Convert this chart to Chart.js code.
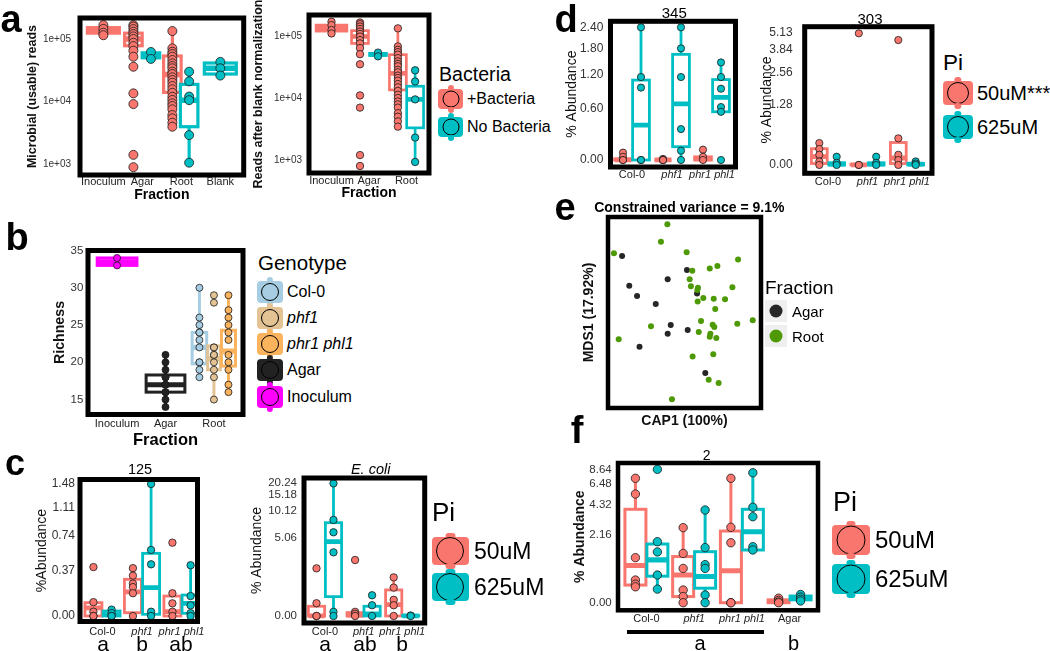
<!DOCTYPE html>
<html>
<head>
<meta charset="utf-8">
<title>Microbiome abundance panels</title>
<script src="https://cdn.jsdelivr.net/npm/chart.js@4.4.0/dist/chart.umd.min.js"></script>
<style>
  html, body { margin: 0; padding: 0; background: #fff; }
  body { position: relative; width: 1050px; height: 651px; overflow: hidden;
         font-family: "Liberation Sans", Arial, sans-serif; color: #000; }
  canvas { position: absolute; }
  .t { position: absolute; white-space: nowrap; line-height: 1; }
  .c { transform: translate(-50%, -50%); }
  .l { transform: translateY(-50%); }
  .key { position: absolute; border-radius: 4px; transform: translateY(-50%); }
  .key::before, .key::after { content: ''; position: absolute; left: 50%; width: 24%; height: 6px;
         transform: translateX(-50%); background: inherit; border-radius: 3px; }
  .key::before { top: -4px; }
  .key::after { bottom: -4px; }
  .dot { position: absolute; left: 50%; top: 50%; transform: translate(-50%, -50%);
         border-radius: 50%; border: 1.4px solid #000; box-sizing: border-box; }
  .sq { position: absolute; background: #efefef; transform: translateY(-50%); }
  .sq .dot { border: none; }
</style>
</head>
<body>
<script>
const PINK = '#F8766D', TEAL = '#00BFC4';

// ---------- a: reads per fraction (log scale) ----------
const fractionA = ['Inoculum', 'Agar', 'Root', 'Blank'];
const fractionA2 = ['Inoculum', 'Agar', 'Root'];
const readTicks = [1000, 10000, 100000];
const readTickLabels = ['1e+03', '1e+04', '1e+05'];

const usableInoculum = [167000, 145000, 126000, 115000];
const usableAgar = [167000, 158000, 144000, 131000, 120000, 110000, 100000, 87000, 77000, 65000, 52000, 36000, 13500, 9100, 1400, 890];
const usableAgarNoBact = [62000, 48000];
const usableRoot = [134000, 71000, 62600, 57500, 52100, 46100, 40800, 37000, 34000, 30000, 27500, 24400, 22100, 20000, 17700, 15700, 13800, 11900, 10600, 9350, 8470, 7500, 6080, 5380, 4580, 3950];
const usableRootNoBact = [30000, 21000, 12000, 10500, 2900, 1050];
const usableBlank = [43000, 34000, 26000];
// boxes: lower whisker, q1, median, q3, upper whisker
const usableInoculumBox = [115000, 124000, 135000, 152000, 167000];
const usableAgarBox = [52000, 78000, 100000, 124000, 167000];
const usableAgarNoBactBox = [48000, 50000, 55000, 60000, 62000];
const usableRootBox = [3950, 14000, 27000, 53500, 134000];
const usableRootNoBactBox = [1050, 3950, 10500, 18800, 30000];
const usableBlankBox = [26000, 27500, 34000, 41300, 43000];

const normInoculum = [170000, 150000, 125000, 110000];
const normAgar = [165000, 155000, 142000, 130000, 118000, 108000, 98000, 86000, 76000, 64000, 51000, 35000, 11000, 7000, 1200, 800];
const normAgarNoBact = [54000, 47000];
const normRoot = [133000, 68000, 60000, 55000, 50000, 44000, 39000, 35500, 32500, 28500, 26000, 23000, 21000, 19000, 16800, 14900, 13000, 11300, 10000, 8800, 7900, 7000, 5700, 5000, 4200, 3450];
const normRootNoBact = [28000, 18500, 9500, 2300, 930];
const normInoculumBox = [110000, 120000, 135000, 150000, 170000];
const normAgarBox = [51000, 76000, 98000, 122000, 165000];
const normAgarNoBactBox = [47000, 48500, 50500, 52500, 54000];
const normRootBox = [3450, 13500, 25000, 50000, 133000];
const normRootNoBactBox = [930, 3300, 9500, 15500, 28000];

// ---------- b: richness ----------
const fractionB = ['Inoculum', 'Agar', 'Root'];
const richTicks = [15, 20, 25, 30, 35];
const richTickLabels = ['15', '20', '25', '30', '35'];
const richInoculum = [34, 33];
const richAgar = [21, 20, 19, 18, 18, 17, 17, 16, 16, 15, 14];
const richCol0 = [30, 26, 25, 24, 24, 23, 22, 20, 20, 19, 18];
const richPhf1 = [29, 28, 22, 22, 21, 21, 20, 19, 18, 15];
const richPhr1 = [29, 27, 26, 25, 24, 23, 21, 20, 19, 17, 16];
const richInoculumBox = [33, 33, 33.5, 34, 34];
const richAgarBox = [14, 16, 17, 18.3, 21];
const richCol0Box = [18, 19.8, 22, 24, 30];
const richPhf1Box = [15, 19, 20.5, 22.2, 22.2];
const richPhr1Box = [16, 19.5, 21.5, 24.3, 29];

// ---------- c, d, f: % abundance per genotype (log1p axis) ----------
const genotypes = ['Col-0', 'phf1', 'phr1 phl1'];
const genotypesF = ['Col-0', 'phf1', 'phr1 phl1', 'Agar'];
const italicNames = ['phf1', 'phr1 phl1'];

const ticks125 = [0, 0.37, 0.74, 1.11, 1.48];
const ticks125Labels = ['0.00', '0.37', '0.74', '1.11', '1.48'];
const otu125Pts50 = [[0.40, 0.10, 0.03, 0, 0], [0.39, 0.32, 0.25, 0.22, 0.17, 0], [0.656, 0.169, 0.091, 0.03, 0]];
const otu125Box50 = [[0, 0, 0.057, 0.096, 0.10], [0, 0.023, 0.18, 0.287, 0.39], [0, 0, 0.03, 0.147, 0.169]];
const otu125Pts625 = [[0.045, 0.02, 0, 0], [1.48, 0.575, 0.427, 0.03, 0], [0.418, 0.147, 0.076, 0.02, 0]];
const otu125Box625 = [[0, 0, 0.01, 0.035, 0.045], [0, 0.012, 0.215, 0.539, 1.48], [0, 0.019, 0.09, 0.155, 0.418]];

const ticksEcoli = [0, 5.06, 10.12, 15.18, 20.24];
const ticksEcoliLabels = ['0.00', '5.06', '10.12', '15.18', '20.24'];
const ecoliPts50 = [[1.99, 0.34, 0, 0], [2.62, 0.1, 0.05, 0], [1.43, 0.92, 0.45, 0.28, 0]];
const ecoliBox50 = [[0, 0, 0, 0.25, 0.34], [0, 0, 0.02, 0.08, 0.1], [0, 0, 0.3, 0.82, 1.43]];
const ecoliPts625 = [[20.1, 8.09, 5.85, 3.32, 0.1, 0], [0.61, 0.28, 0], [0.01, 0]];
const ecoliBox625 = [[0, 0.56, 4.52, 7.54, 20.1], [0, 0, 0.05, 0.25, 0.25], [0, 0, 0, 0.01, 0.02]];

const ticks345 = [0, 0.6, 1.2, 1.8, 2.4];
const ticks345Labels = ['0.00', '0.60', '1.20', '1.80', '2.40'];
const otu345Pts50 = [[0.07, 0.03, 0, 0], [0.01, 0, 0, 0], [0.1, 0.03, 0]];
const otu345Box50 = [[0, 0, 0, 0.01, 0.03], [0, 0, 0, 0, 0.01], [0, 0, 0.01, 0.03, 0.1]];
const otu345Pts625 = [[2.4, 1.15, 0.95, 0, 0], [2.4, 1.8, 1.15, 0.33, 0.09, 0], [1.46, 1.15, 0.93, 0.63, 0.56, 0]];
const otu345Box625 = [[0, 0, 0.38, 1.09, 2.4], [0, 0.13, 0.68, 1.65, 2.4], [0.56, 0.56, 0.78, 1.10, 1.46]];

const ticks303 = [0, 1.28, 2.56, 3.84, 5.13];
const ticks303Labels = ['0.00', '1.28', '2.56', '3.84', '5.13'];
const otu303Pts50 = [[0.35, 0.245, 0.15, 0.05, 0], [5.07, 0, 0], [4.54, 0.44, 0.15, 0.07, 0]];
const otu303Box50 = [[0, 0.02, 0.12, 0.25, 0.35], [0, 0, 0, 0.01, 0.01], [0, 0.02, 0.1, 0.36, 0.44]];
const otu303Pts625 = [[0.12, 0.03, 0], [0.12, 0.03, 0], [0.05, 0.02, 0]];
const otu303Box625 = [[0, 0, 0.01, 0.03, 0.05], [0, 0, 0.01, 0.03, 0.05], [0, 0, 0.01, 0.02, 0.03]];

const ticks2 = [0, 2.16, 4.32, 6.48, 8.64];
const ticks2Labels = ['0.00', '2.16', '4.32', '6.48', '8.64'];
const otu2Pts50 = [[7.28, 5.34, 1.15, 0.47, 0.37, 0.31], [2.58, 1.31, 0.79, 0.24, 0.11, 0], [7.28, 2.6, 1.77, 0, 0], [0.08, 0.04, 0.01, 0]];
const otu2Box50 = [[0.31, 0.35, 0.88, 3.89, 7.28], [0, 0.11, 0.6, 1.19, 2.58], [0, 0, 0.72, 2.38, 7.28], [0, 0, 0.02, 0.05, 0.08]];
const otu2Pts625 = [[8.64, 1.82, 1.37, 0.6, 0.26], [3.83, 1.55, 0.91, 0.79, 0.14, 0], [8.1, 4.06, 3.31, 1.59, 1.45], [0.15, 0.1, 0.06, 0.03]];
const otu2Box625 = [[0.26, 0.57, 1.07, 1.71, 1.82], [0, 0.28, 0.56, 1.38, 3.83], [1.45, 1.45, 2.34, 3.89, 8.1], [0.03, 0.05, 0.08, 0.12, 0.15]];

// ---------- e: constrained ordination ----------
const rootCap = [.388, .346, .039, .514, .850, .715, .665, .551, .534, .542, .588, .584, .813, .623, .691, .765, .586, .701, .946, .845, .608, .684, .695, .281, .593, .669, .665, .708, .070, .553, .688, .658, .723, .418];
const rootMds = [.962, .871, .810, .815, .777, .743, .731, .719, .674, .637, .630, .618, .632, .576, .572, .569, .557, .518, .459, .441, .455, .436, .424, .428, .398, .389, .373, .366, .360, .269, .281, .148, .131, .046];
const agarCap = [.092, .516, .390, .139, .190, .312, .582, .410, .390, .521, .206, .636];
const agarMds = [.796, .723, .674, .640, .586, .545, .600, .435, .389, .408, .321, .183];

// axis with log(1 + x) spacing, as used for the abundance panels
class Log1pScale extends Chart.LinearScale {
  configure() {
    super.configure();
    this._t0 = Math.log1p(this.min);
    this._t1 = Math.log1p(this.max);
  }
  getPixelForValue(v) {
    return this.getPixelForDecimal((Math.log1p(v) - this._t0) / (this._t1 - this._t0));
  }
  getValueForPixel(p) {
    return Math.expm1(this._t0 + this.getDecimalForPixel(p) * (this._t1 - this._t0));
  }
}
Log1pScale.id = 'log1p';
Log1pScale.defaults = Chart.LinearScale.defaults;
Chart.register(Log1pScale);

Chart.defaults.font.family = '"Liberation Sans", Arial, sans-serif';
Chart.defaults.color = '#333';

function boxLayer(groups, lw) {
  return {
    id: 'boxLayer',
    beforeDatasetsDraw(chart) {
      const { ctx, chartArea: a, scales: { x, y } } = chart;
      ctx.save();
      ctx.beginPath();
      ctx.rect(a.left, a.top, a.right - a.left, a.bottom - a.top);
      ctx.clip();
      groups.forEach(g => {
        if (!g.box) return;
        const cx = x.getPixelForValue(g.cat + g.off);
        const hw = Math.abs(x.getPixelForValue(g.cat + g.off + g.w / 2) - cx);
        const [lo, q1, md, q3, hi] = g.box.map(v => y.getPixelForValue(v));
        ctx.strokeStyle = g.color;
        ctx.lineWidth = lw;
        ctx.beginPath();
        ctx.moveTo(cx, q3); ctx.lineTo(cx, hi);
        ctx.moveTo(cx, q1); ctx.lineTo(cx, lo);
        ctx.stroke();
        ctx.fillStyle = '#fff';
        ctx.fillRect(cx - hw, q3, 2 * hw, q1 - q3);
        ctx.strokeRect(cx - hw, q3, 2 * hw, q1 - q3);
        ctx.lineWidth = lw * 1.7;
        ctx.beginPath();
        ctx.moveTo(cx - hw, md); ctx.lineTo(cx + hw, md);
        ctx.stroke();
      });
      ctx.restore();
    }
  };
}

function frameLayer(lw) {
  return {
    id: 'frameLayer',
    afterDatasetsDraw(chart) {
      const { ctx, chartArea: a } = chart;
      ctx.save();
      ctx.lineWidth = lw;
      ctx.strokeStyle = '#000';
      ctx.strokeRect(a.left, a.top, a.right - a.left, a.bottom - a.top);
      ctx.restore();
    }
  };
}

const noPad = s => { s.paddingLeft = s.paddingRight = s.paddingTop = s.paddingBottom = 0; };

function newCanvas(c) {
  const cv = document.createElement('canvas');
  cv.width = c[2] - c[0];
  cv.height = c[3] - c[1];
  Object.assign(cv.style, { left: c[0] + 'px', top: c[1] + 'px', width: cv.width + 'px', height: cv.height + 'px' });
  document.body.appendChild(cv);
  return cv;
}

function makePanel(o) {
  const [x0, y0, x1, y1] = o.plot;
  const [cl, ct, cr, cb] = o.canvas;
  const cv = newCanvas(o.canvas);
  const datasets = o.groups.map(g => ({
    data: g.pts.map(v => ({ x: g.cat + g.off, y: v })),
    pointRadius: o.r, pointHoverRadius: o.r,
    backgroundColor: g.color, borderColor: '#1a1a1a', borderWidth: 0.8
  }));
  return new Chart(cv, {
    type: 'scatter',
    data: { datasets },
    options: {
      responsive: false, animation: false, events: [],
      layout: { padding: { left: 0, top: y0 - ct, right: cr - x1, bottom: 0 } },
      plugins: { legend: { display: false }, tooltip: { enabled: false } },
      scales: {
        x: {
          type: 'linear', min: o.xMin, max: o.xMax, bounds: 'data',
          grid: { display: false, drawTicks: false }, border: { display: false },
          afterBuildTicks: s => { s.ticks = o.names.map((n, i) => ({ value: i + 1 })); },
          ticks: {
            autoSkip: false, maxRotation: 0, minRotation: 0, padding: o.xTickPad, color: '#222',
            font: c => ({ size: o.xTickSize, style: italicNames.includes(o.names[c.index]) ? 'italic' : 'normal' }),
            callback: (v, i) => o.names[i]
          },
          title: {
            display: !!o.xTitle, text: o.xTitle || '', color: '#000',
            font: { size: o.xTitleSize || 14, weight: 'bold' }, padding: { top: 0, bottom: o.xTitlePad || 0 }
          },
          afterFit: s => { s.height = cb - y1; noPad(s); }
        },
        y: {
          type: o.yType, min: o.yMin, max: o.yMax, bounds: 'data',
          grid: { display: false, drawTicks: false }, border: { display: false },
          afterBuildTicks: s => { s.ticks = o.yTicks.map(v => ({ value: v })); },
          ticks: {
            autoSkip: false, padding: o.yTickPad, color: '#333', font: { size: o.yTickSize },
            callback: (v, i) => o.yTickLabels[i]
          },
          title: {
            display: true, text: o.yTitle, color: '#111',
            font: { size: o.yTitleSize, weight: o.yTitleBold ? 'bold' : 'normal' },
            padding: { top: o.yTitlePad, bottom: 0 }
          },
          afterFit: s => { s.width = x0 - cl; noPad(s); }
        }
      }
    },
    plugins: [boxLayer(o.groups, o.lw), frameLayer(o.frame || 5)]
  });
}

function dodge(pts50, box50, pts625, box625, off, w) {
  const out = [];
  pts50.forEach((p, i) => {
    out.push({ cat: i + 1, off: -off, w, pts: p, box: box50[i], color: PINK });
    out.push({ cat: i + 1, off: off, w, pts: pts625[i], box: box625[i], color: TEAL });
  });
  return out;
}

// ---- a (left) ----
makePanel({
  plot: [80, 18, 244, 175], canvas: [0, 0, 249, 206],
  names: fractionA, xMin: 0.4, xMax: 4.6, xTickSize: 11, xTickPad: 0.4,
  xTitle: 'Fraction', xTitleSize: 14, xTitlePad: 2.6,
  yType: 'logarithmic', yMin: 667, yMax: 216800, yTicks: readTicks, yTickLabels: readTickLabels,
  yTickSize: 10, yTickPad: 9, yTitle: 'Microbial (usable) reads', yTitleSize: 12.5, yTitleBold: true, yTitlePad: 25.5,
  r: 4.5, lw: 3.2,
  groups: [
    { cat: 1, off: 0, w: 0.82, pts: usableInoculum, box: usableInoculumBox, color: PINK },
    { cat: 2, off: -0.23, w: 0.45, pts: usableAgar, box: usableAgarBox, color: PINK },
    { cat: 2, off: 0.22, w: 0.45, pts: usableAgarNoBact, box: usableAgarNoBactBox, color: TEAL },
    { cat: 3, off: -0.23, w: 0.45, pts: usableRoot, box: usableRootBox, color: PINK },
    { cat: 3, off: 0.2, w: 0.45, pts: usableRootNoBact, box: usableRootNoBactBox, color: TEAL },
    { cat: 4, off: 0, w: 0.82, pts: usableBlank, box: usableBlankBox, color: TEAL }
  ]
});

// ---- a (right) ----
makePanel({
  plot: [309, 15, 429, 173], canvas: [250, 0, 434, 206],
  names: fractionA2, xMin: 0.4, xMax: 3.6, xTickSize: 11, xTickPad: 1.4,
  xTitle: 'Fraction', xTitleSize: 14, xTitlePad: 4.6,
  yType: 'logarithmic', yMin: 617, yMax: 218300, yTicks: readTicks, yTickLabels: readTickLabels,
  yTickSize: 10, yTickPad: 7, yTitle: 'Reads after blank normalization', yTitleSize: 12.5, yTitleBold: true, yTitlePad: 1.5,
  r: 3.7, lw: 2.7,
  groups: [
    { cat: 1, off: 0, w: 0.82, pts: normInoculum, box: normInoculumBox, color: PINK },
    { cat: 2, off: -0.24, w: 0.45, pts: normAgar, box: normAgarBox, color: PINK },
    { cat: 2, off: 0.24, w: 0.45, pts: normAgarNoBact, box: normAgarNoBactBox, color: TEAL },
    { cat: 3, off: -0.23, w: 0.45, pts: normRoot, box: normRootBox, color: PINK },
    { cat: 3, off: 0.23, w: 0.45, pts: normRootNoBact, box: normRootNoBactBox, color: TEAL }
  ]
});

// ---- b ----
makePanel({
  plot: [88, 250.5, 243, 414.5], canvas: [40, 240, 248, 452],
  names: fractionB, xMin: 0.4, xMax: 3.6, xTickSize: 11, xTickPad: 3.2,
  xTitle: 'Fraction', xTitleSize: 16.5, xTitlePad: 1.4,
  yType: 'linear', yMin: 13, yMax: 35, yTicks: richTicks, yTickLabels: richTickLabels,
  yTickSize: 11.5, yTickPad: 4.7, yTitle: 'Richness', yTitleSize: 14.2, yTitleBold: true, yTitlePad: 11.5,
  r: 3.5, lw: 3,
  groups: [
    { cat: 1, off: 0, w: 0.82, pts: richInoculum, box: richInoculumBox, color: '#ff00ff' },
    { cat: 2, off: 0, w: 0.8, pts: richAgar, box: richAgarBox, color: '#222222' },
    { cat: 3, off: -0.3, w: 0.3, pts: richCol0, box: richCol0Box, color: '#a6cde2' },
    { cat: 3, off: 0, w: 0.26, pts: richPhf1, box: richPhf1Box, color: '#e3c393' },
    { cat: 3, off: 0.3, w: 0.29, pts: richPhr1, box: richPhr1Box, color: '#fbb35e' }
  ]
});

// ---- c ----
makePanel({
  plot: [80, 479.5, 197.5, 621.5], canvas: [30, 470, 212, 648],
  names: genotypes, xMin: 0.43, xMax: 3.405, xTickSize: 11, xTickPad: 3.6,
  yType: 'log1p', yMin: -0.037, yMax: 1.557, yTicks: ticks125, yTickLabels: ticks125Labels,
  yTickSize: 12, yTickPad: 5, yTitle: '%Abundance', yTitleSize: 14, yTitlePad: 3.3,
  r: 3.7, lw: 2.8,
  groups: dodge(otu125Pts50, otu125Box50, otu125Pts625, otu125Box625, 0.23, 0.43)
});
makePanel({
  plot: [304, 478, 424.7, 623], canvas: [240, 470, 436, 648],
  names: genotypes, xMin: 0.456, xMax: 3.583, xTickSize: 11, xTickPad: 2.1,
  yType: 'log1p', yMin: -0.149, yMax: 22.86, yTicks: ticksEcoli, yTickLabels: ticksEcoliLabels,
  yTickSize: 11.5, yTickPad: 7, yTitle: '% Abundance', yTitleSize: 14, yTitlePad: 8.3,
  r: 3.7, lw: 2.8,
  groups: dodge(ecoliPts50, ecoliBox50, ecoliPts625, ecoliBox625, 0.22, 0.42)
});

// ---- d ----
makePanel({
  plot: [610.5, 21.3, 735.5, 167], canvas: [560, 0, 742, 190],
  names: genotypes, xMin: 0.4625, xMax: 3.5875, xTickSize: 11, xTickPad: 1.4,
  yType: 'log1p', yMin: -0.0626, yMax: 2.595, yTicks: ticks345, yTickLabels: ticks345Labels,
  yTickSize: 12, yTickPad: 7.2, yTitle: '% Abundance', yTitleSize: 14, yTitlePad: 3.3,
  r: 3.6, lw: 2.8,
  groups: dodge(otu345Pts50, otu345Box50, otu345Pts625, otu345Box625, 0.225, 0.42)
});
makePanel({
  plot: [804.7, 26.7, 932, 173.3], canvas: [745, 0, 937, 192],
  names: genotypes, xMin: 0.41, xMax: 3.633, xTickSize: 11, xTickPad: 1.8,
  yType: 'log1p', yMin: -0.108, yMax: 5.65, yTicks: ticks303, yTickLabels: ticks303Labels,
  yTickSize: 12, yTickPad: 12, yTitle: '% Abundance', yTitleSize: 14, yTitlePad: 13.3,
  r: 3.6, lw: 2.8,
  groups: dodge(otu303Pts50, otu303Box50, otu303Pts625, otu303Box625, 0.22, 0.4)
});

// ---- f ----
makePanel({
  plot: [618, 463, 818.7, 610.3], canvas: [565, 452, 823, 632],
  names: genotypesF, xMin: 0.405, xMax: 4.595, xTickSize: 11, xTickPad: 2.1,
  yType: 'log1p', yMin: -0.121, yMax: 9.74, yTicks: ticks2, yTickLabels: ticks2Labels,
  yTickSize: 11.5, yTickPad: 6.3, yTitle: '% Abundance', yTitleSize: 14, yTitleBold: true, yTitlePad: 6.6,
  r: 4.2, lw: 3, frame: 4.5,
  groups: dodge(otu2Pts50, otu2Box50, otu2Pts625, otu2Box625, 0.23, 0.44)
});

// ---- e ----
(function () {
  const plot = [608, 217, 761, 408], c = [575, 212, 766, 432];
  const cv = newCanvas(c);
  new Chart(cv, {
    type: 'scatter',
    data: {
      datasets: [
        { data: rootCap.map((v, i) => ({ x: v, y: rootMds[i] })), backgroundColor: '#4e9a06', pointRadius: 3, borderWidth: 0 },
        { data: agarCap.map((v, i) => ({ x: v, y: agarMds[i] })), backgroundColor: '#262626', pointRadius: 3, borderWidth: 0 }
      ]
    },
    options: {
      responsive: false, animation: false, events: [],
      layout: { padding: { left: 0, top: plot[1] - c[1], right: c[2] - plot[2], bottom: 0 } },
      plugins: { legend: { display: false }, tooltip: { enabled: false } },
      scales: {
        x: {
          min: 0, max: 1, grid: { display: false, drawTicks: false }, border: { display: false },
          ticks: { display: false },
          title: { display: true, text: 'CAP1 (100%)', color: '#111', font: { size: 14, weight: 'bold' }, padding: { top: 0, bottom: 2.9 } },
          afterFit: s => { s.height = c[3] - plot[3]; noPad(s); }
        },
        y: {
          min: 0, max: 1, grid: { display: false, drawTicks: false }, border: { display: false },
          ticks: { display: false },
          title: { display: true, text: 'MDS1 (17.92%)', color: '#111', font: { size: 14, weight: 'bold' }, padding: { top: 5.6, bottom: 0 } },
          afterFit: s => { s.width = plot[0] - c[0]; noPad(s); }
        }
      }
    },
    plugins: [frameLayer(4.5)]
  });
})();

// ---------- text, legends ----------
function addText(str, x, y, size, o = {}) {
  const d = document.createElement('div');
  d.className = 't ' + (o.left ? 'l' : 'c');
  d.textContent = str;
  Object.assign(d.style, { left: x + 'px', top: y + 'px', fontSize: size + 'px' });
  if (o.bold) d.style.fontWeight = 'bold';
  if (o.italic) d.style.fontStyle = 'italic';
  document.body.appendChild(d);
}
function addKey(x, y, w, h, d, color) {
  const k = document.createElement('div');
  k.className = 'key';
  Object.assign(k.style, { left: x + 'px', top: y + 'px', width: w + 'px', height: h + 'px', background: color });
  const dot = document.createElement('div');
  dot.className = 'dot';
  Object.assign(dot.style, { width: d + 'px', height: d + 'px', background: color });
  k.appendChild(dot);
  document.body.appendChild(k);
}
function addSquareKey(x, y, s, d, color) {
  const k = document.createElement('div');
  k.className = 'sq';
  Object.assign(k.style, { left: x + 'px', top: y + 'px', width: s + 'px', height: s + 'px' });
  const dot = document.createElement('div');
  dot.className = 'dot';
  Object.assign(dot.style, { width: d + 'px', height: d + 'px', background: color });
  k.appendChild(dot);
  document.body.appendChild(k);
}

// panel letters
addText('a', 11, 18.5, 38, { bold: true });
addText('b', 17, 237, 38, { bold: true });
addText('c', 15, 462.5, 36, { bold: true });
addText('d', 566, 19, 38, { bold: true });
addText('e', 565, 207, 38, { bold: true });
addText('f', 577, 430, 38, { bold: true });

// panel titles
addText('345', 674.3, 12, 15);
addText('303', 870, 17.5, 15);
addText('125', 140, 469, 14.5);
addText('E. coli', 370.7, 469, 14.5, { italic: true });
addText('2', 706.7, 455, 14);
addText('Constrained variance = 9.1%', 689.3, 206.7, 14, { bold: true });

// Bacteria legend
addText('Bacteria', 439, 75, 19.6, { left: true });
addKey(438, 99, 25, 20, 17, PINK);
addKey(438, 127, 25, 20, 17, TEAL);
addText('+Bacteria', 467, 99, 16, { left: true });
addText('No Bacteria', 467, 127, 16, { left: true });

// Genotype legend
const genoLegend = ['Col-0', 'phf1', 'phr1 phl1', 'Agar', 'Inoculum'];
const genoColors = ['#a6cde2', '#e3c393', '#fbb35e', '#222222', '#ff00ff'];
const genoRows = [291.7, 317.7, 344, 370, 396.7];
addText('Genotype', 258, 263, 20.5, { left: true });
genoLegend.forEach((g, i) => {
  addKey(257, genoRows[i], 26, 22, 18, genoColors[i]);
  addText(g, 287, genoRows[i], 16, { left: true, italic: italicNames.includes(g) });
});

// Pi legends
addText('Pi', 432, 512, 26, { left: true });
addKey(431.7, 551, 37.6, 28, 28, PINK);
addKey(431.7, 586.7, 37.6, 28, 28, TEAL);
addText('50uM', 474, 551, 23, { left: true });
addText('625uM', 474, 586.7, 23, { left: true });

addText('Pi', 943, 63, 22.5, { left: true });
addKey(942.7, 93, 30.6, 24, 22, PINK);
addKey(942.7, 127, 30.6, 24, 22, TEAL);
addText('50uM***', 977, 93, 20, { left: true });
addText('625uM', 977, 127, 20, { left: true });

addText('Pi', 833, 502, 27, { left: true });
addKey(831.7, 540, 38, 30, 29, PINK);
addKey(831.7, 579, 38, 30, 29, TEAL);
addText('50uM', 875, 540, 24, { left: true });
addText('625uM', 875, 579, 24, { left: true });

// Fraction legend
addText('Fraction', 765, 287, 19, { left: true });
addSquareKey(765, 311, 22, 13, '#262626');
addSquareKey(765, 336, 22, 13, '#4e9a06');
addText('Agar', 792, 311, 15, { left: true });
addText('Root', 792, 336, 15, { left: true });

// significance letters
addText('a', 103, 643, 21); addText('b', 142, 643, 21); addText('ab', 181, 643, 21);
addText('a', 325, 643, 21); addText('ab', 365, 643, 21); addText('b', 402, 643, 21);
addText('a', 700, 643, 20); addText('b', 793.5, 643, 20);
const bar = document.createElement('div');
Object.assign(bar.style, { position: 'absolute', left: '626.7px', top: '629.7px', width: '137.3px', height: '4px', background: '#000' });
document.body.appendChild(bar);
</script>
</body>
</html>
